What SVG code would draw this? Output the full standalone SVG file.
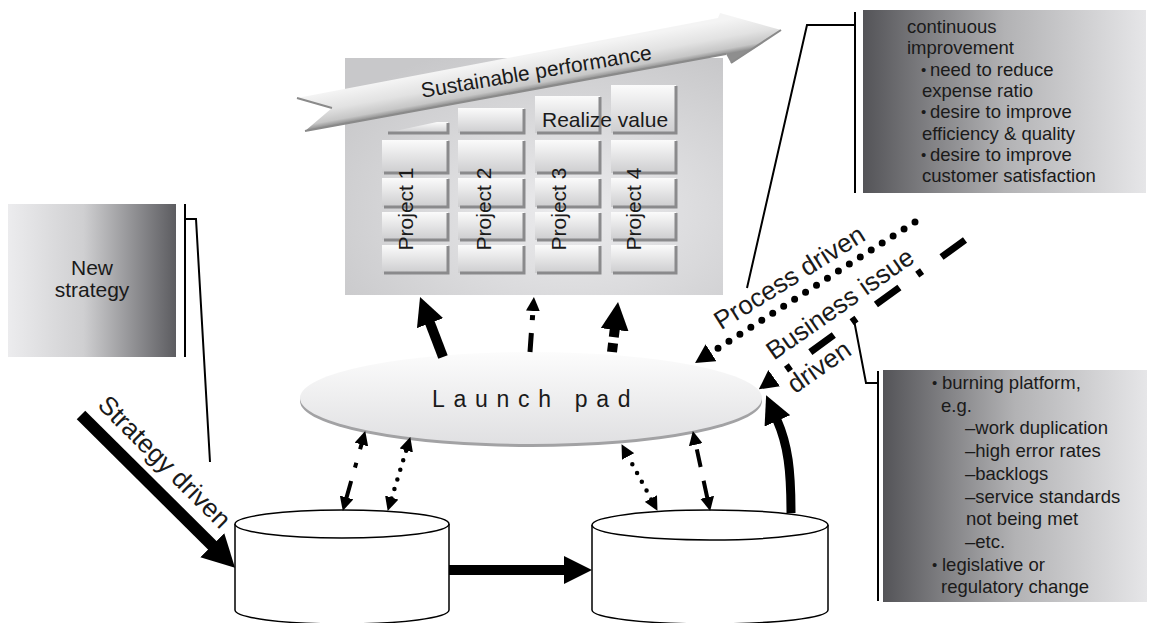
<svg xmlns="http://www.w3.org/2000/svg" width="1150" height="623" viewBox="0 0 1150 623">
<defs>
<style>
text{font-family:"Liberation Sans",Arial,Helvetica,sans-serif;fill:#1a1a1a}
.cell{fill:url(#cellG)}
.sh{fill:none;stroke:#8a8a8c;stroke-width:3}
.proj{font-size:21px}
.box{font-size:18.5px}
.bul{font-size:15px}
.lbl{font-size:26px}
.call{fill:none;stroke:#000;stroke-width:2}
.cyl{fill:#fff;stroke:#000;stroke-width:1.5}
.ln{fill:none;stroke:#000}
.dot{stroke-linecap:round}
</style>
<linearGradient id="cellG" x1="0" y1="0" x2="0" y2="1"><stop offset="0" stop-color="#fbfbfb"/><stop offset="1" stop-color="#cdcdcf"/></linearGradient>
<radialGradient id="panelG" cx="0.6" cy="0.65" r="0.75"><stop offset="0" stop-color="#ececee"/><stop offset="1" stop-color="#c8c8ca"/></radialGradient>
<linearGradient id="darkL" x1="0" y1="0" x2="1" y2="0"><stop offset="0" stop-color="#545458"/><stop offset="0.5" stop-color="#b2b2b4"/><stop offset="1" stop-color="#e6e6e8"/></linearGradient>
<linearGradient id="darkR" x1="0" y1="0" x2="1" y2="0"><stop offset="0" stop-color="#ececee"/><stop offset="0.45" stop-color="#cfcfd1"/><stop offset="1" stop-color="#5c5c60"/></linearGradient>
<linearGradient id="padG" x1="0" y1="0" x2="0" y2="1"><stop offset="0" stop-color="#fcfcfc"/><stop offset="1" stop-color="#e0e0e2"/></linearGradient>
<linearGradient id="arrG" gradientUnits="userSpaceOnUse" x1="500" y1="61" x2="506" y2="94"><stop offset="0" stop-color="#f4f4f4"/><stop offset="0.5" stop-color="#e2e2e2"/><stop offset="0.85" stop-color="#c6c6c6"/><stop offset="1" stop-color="#8e8e8e"/></linearGradient>
<marker id="hb" markerUnits="userSpaceOnUse" viewBox="0 0 28 28" markerWidth="28" markerHeight="28" refX="1" refY="14" orient="auto"><path d="M0,0 L28,14 L0,28 z" fill="#000"/></marker>
<marker id="hx" markerUnits="userSpaceOnUse" viewBox="0 0 32 34" markerWidth="32" markerHeight="34" refX="1" refY="17" orient="auto"><path d="M0,0 L32,17 L0,34 z" fill="#000"/></marker>
<marker id="hs" markerUnits="userSpaceOnUse" viewBox="0 0 14 14" markerWidth="14" markerHeight="14" refX="1" refY="7" orient="auto-start-reverse"><path d="M0,0 L14,7 L0,14 z" fill="#000"/></marker>
<marker id="hm" markerUnits="userSpaceOnUse" viewBox="0 0 19 20" markerWidth="19" markerHeight="20" refX="1" refY="10" orient="auto"><path d="M0,0 L19,10 L0,20 z" fill="#000"/></marker>
</defs>

<g id="value-panel">
<rect x="345" y="58" width="378" height="237" fill="url(#panelG)"/>
<g id="cells">
<polygon class="cell" points="386,133 437,122 448,122 448,133"/><path class="sh" d="M448,123 V133 H388"/>
<rect class="cell" x="458" y="108" width="66" height="25"/><path class="sh" d="M524,109 V133 H460"/>
<rect class="cell" x="535" y="96" width="65" height="37"/><path class="sh" d="M600,97 V133 H537"/>
<rect class="cell" x="611" y="85" width="65" height="48"/><path class="sh" d="M676,86 V133 H613"/>

<rect class="cell" x="382" y="140" width="66" height="33"/><path class="sh" d="M448,141 V173 H384"/>
<rect class="cell" x="458" y="140" width="66" height="33"/><path class="sh" d="M524,141 V173 H460"/>
<rect class="cell" x="535" y="140" width="65" height="33"/><path class="sh" d="M600,141 V173 H537"/>
<rect class="cell" x="611" y="140" width="65" height="33"/><path class="sh" d="M676,141 V173 H613"/>

<rect class="cell" x="382" y="178" width="66" height="29"/><path class="sh" d="M448,179 V207 H384"/>
<rect class="cell" x="458" y="178" width="66" height="29"/><path class="sh" d="M524,179 V207 H460"/>
<rect class="cell" x="535" y="178" width="65" height="29"/><path class="sh" d="M600,179 V207 H537"/>
<rect class="cell" x="611" y="178" width="65" height="29"/><path class="sh" d="M676,179 V207 H613"/>

<rect class="cell" x="382" y="212" width="66" height="28"/><path class="sh" d="M448,213 V240 H384"/>
<rect class="cell" x="458" y="212" width="66" height="28"/><path class="sh" d="M524,213 V240 H460"/>
<rect class="cell" x="535" y="212" width="65" height="28"/><path class="sh" d="M600,213 V240 H537"/>
<rect class="cell" x="611" y="212" width="65" height="28"/><path class="sh" d="M676,213 V240 H613"/>

<rect class="cell" x="382" y="245" width="66" height="28"/><path class="sh" d="M448,246 V273 H384"/>
<rect class="cell" x="458" y="245" width="66" height="28"/><path class="sh" d="M524,246 V273 H460"/>
<rect class="cell" x="535" y="245" width="65" height="28"/><path class="sh" d="M600,246 V273 H537"/>
<rect class="cell" x="611" y="245" width="65" height="28"/><path class="sh" d="M676,246 V273 H613"/>
</g>
<text class="proj" x="542" y="127">Realize value</text>
<text class="proj" text-anchor="middle" transform="translate(413,209) rotate(-90)">Project 1</text>
<text class="proj" text-anchor="middle" transform="translate(491,209) rotate(-90)">Project 2</text>
<text class="proj" text-anchor="middle" transform="translate(566,209) rotate(-90)">Project 3</text>
<text class="proj" text-anchor="middle" transform="translate(641,209) rotate(-90)">Project 4</text>
<g id="sustainable-arrow">
<polygon points="297,98 718,18 720,13 781,30 731,63 726,54 305,131 332,108" fill="url(#arrG)"/>
<path d="M297,98 L332,108 M305,131 L726,54 M731,63 L781,30" fill="none" stroke="#8a8a8a" stroke-width="2"/>
<text class="proj" text-anchor="middle" transform="translate(537.5,78.5) rotate(-9.5)">Sustainable performance</text>
</g>
</g>

<g id="new-strategy">
<rect x="8" y="204" width="168" height="153" fill="url(#darkR)"/>
<text font-size="21" text-anchor="middle" x="92" y="275">New</text>
<text font-size="21" text-anchor="middle" x="92" y="297">strategy</text>
</g>

<g id="continuous-improvement">
<rect x="863" y="10" width="283" height="183" fill="url(#darkL)"/>
<g class="box">
<text x="907" y="33">continuous</text>
<text x="907" y="54.3">improvement</text>
<text class="bul" x="921" y="74.6">•</text><text x="930" y="75.6">need to reduce</text>
<text x="922" y="96.9">expense ratio</text>
<text class="bul" x="921" y="117.2">•</text><text x="930" y="118.2">desire to improve</text>
<text x="922" y="139.5">efficiency &amp; quality</text>
<text class="bul" x="921" y="159.8">•</text><text x="930" y="160.8">desire to improve</text>
<text x="922" y="182.1">customer satisfaction</text>
</g>
</g>

<g id="burning-platform">
<rect x="883" y="370" width="264" height="232" fill="url(#darkL)"/>
<g class="box">
<text class="bul" x="932" y="388">•</text><text x="942" y="389">burning platform,</text>
<text x="941" y="411.7">e.g.</text>
<text x="965" y="434.4">–work duplication</text>
<text x="965" y="457.1">–high error rates</text>
<text x="965" y="479.8">–backlogs</text>
<text x="965" y="502.5">–service standards</text>
<text x="966" y="525.2">not being met</text>
<text x="965" y="547.9">–etc.</text>
<text class="bul" x="932" y="569.6">•</text><text x="942" y="570.6">legislative or</text>
<text x="941" y="593.3">regulatory change</text>
</g>
</g>

<g id="launch-pad">
<ellipse cx="531" cy="401" rx="231" ry="46" fill="#a2a2a4"/>
<ellipse cx="531" cy="398" rx="231" ry="46" fill="url(#padG)"/>
<text x="432" y="407" font-size="23" letter-spacing="8.7">Launch pad</text>
</g>

<g id="cylinder-1">
<path class="cyl" d="M235,524 V610 A107,14 0 0 0 449,610 V524"/>
<ellipse class="cyl" cx="342" cy="524" rx="107" ry="14"/>
</g>
<g id="cylinder-2">
<path class="cyl" d="M592,525 V610 A118,14 0 0 0 828,610 V525"/>
<ellipse class="cyl" cx="710" cy="525" rx="118" ry="15"/>
</g>

<g id="callouts">
<path class="call" d="M185,204 V357 M185,219 H196 L210,462"/>
<path class="call" d="M855,12 V193 M855,25 H807 L747,288"/>
<path class="call" d="M878,371 V601 M878,383 H866 L854,320"/>
</g>

<g id="connectors">
<line class="ln" x1="443" y1="357" x2="429.7" y2="322.2" stroke-width="10" marker-end="url(#hb)"/>
<line class="ln" x1="530" y1="352" x2="533" y2="310" stroke-width="5" stroke-dasharray="19 13 5 13" marker-end="url(#hs)"/>
<line class="ln" x1="612" y1="352" x2="614.8" y2="328.8" stroke-width="10" stroke-dasharray="9 6" marker-end="url(#hb)"/>
<line class="ln" x1="81" y1="415" x2="213" y2="546" stroke-width="12" marker-end="url(#hx)"/>
<line class="ln" x1="449" y1="570" x2="565" y2="570" stroke-width="10" marker-end="url(#hb)"/>
<path class="ln" d="M791,513 C791,470 788,445 777,420" stroke-width="9" marker-end="url(#hb)"/>
<path class="ln" d="M346.3,498.4 L361.7,443.6" stroke-width="4" stroke-dasharray="18 14 5 14" marker-start="url(#hs)" marker-end="url(#hs)"/>
<path class="ln dot" d="M391.5,498.5 L406.5,449.5" stroke-width="4.5" stroke-dasharray="0 10" marker-start="url(#hs)" marker-end="url(#hs)"/>
<path class="ln dot" d="M651.3,499.4 L627.7,455.6" stroke-width="4.5" stroke-dasharray="0 10" marker-start="url(#hs)" marker-end="url(#hs)"/>
<path class="ln" d="M707.4,498.3 L695.6,443.7" stroke-width="4" stroke-dasharray="18 14" marker-start="url(#hs)" marker-end="url(#hs)"/>
<path class="ln dot" d="M915,222 L710.2,353.3" stroke-width="7" stroke-dasharray="0 13" marker-end="url(#hm)"/>
<path class="ln" d="M965,240 L773.4,378.8" stroke-width="7" stroke-dasharray="29 24 6 22" marker-end="url(#hm)"/>
</g>

<g id="driver-labels">
<text class="lbl" text-anchor="middle" transform="translate(158.3,468.2) rotate(45)">Strategy driven</text>
<text class="lbl" text-anchor="middle" transform="translate(794,285) rotate(-32)">Process driven</text>
<text class="lbl" text-anchor="middle" transform="translate(845,311) rotate(-35)">Business issue</text>
<text class="lbl" text-anchor="middle" transform="translate(824,374) rotate(-35)">driven</text>
</g>
</svg>
